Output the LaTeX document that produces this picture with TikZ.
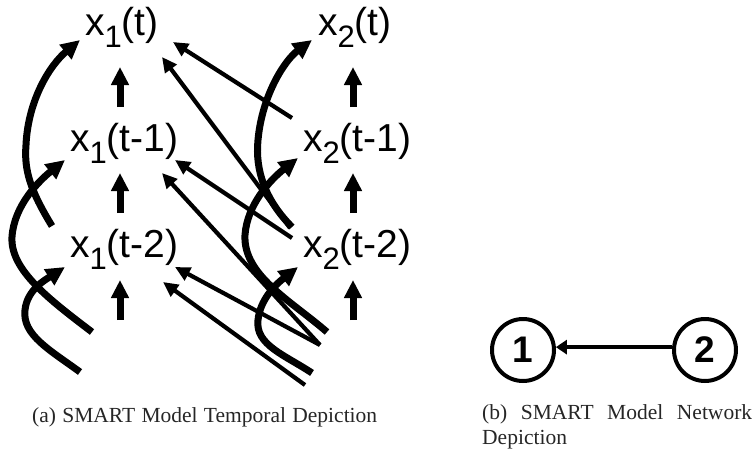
\documentclass[tikz,border=0pt]{standalone}
\usepackage{fontspec}
\setmainfont{Liberation Serif}
\newfontfamily\arialf{Liberation Sans}
\usetikzlibrary{arrows.meta}
\newcommand\subx[1]{\raisebox{-12pt}{\fontsize{31}{31}\selectfont #1}}
\begin{document}
\begin{tikzpicture}[x=1pt,y=-1pt,
  var/.style={anchor=base west, inner sep=0pt, font=\arialf\fontsize{39}{39}\selectfont},
  thinarrow/.style={line width=4.2pt, -{Triangle[length=15pt,width=14pt]}},
  thickarrow/.style={line width=7pt, -{Triangle[length=19pt,width=18pt]}},
  vertarrow/.style={line width=7pt, -{Triangle[length=18pt,width=17pt]}},
  circ/.style={circle, draw, line width=4pt, minimum size=62pt, inner sep=0pt, font=\arialf\bfseries\fontsize{37}{37}\selectfont},
  captext/.style={anchor=base west, inner sep=0pt, font=\fontsize{21.5}{25}\selectfont, text=black!85}]
\useasboundingbox (0,0) rectangle (753,451);

% variable nodes
\node[var] (a0) at (85,35) {x\subx{1}(t)};
\node[var] (a1) at (70,151) {x\subx{1}(t-1)};
\node[var] (a2) at (70,257) {x\subx{1}(t-2)};
\node[var] (b0) at (318,35) {x\subx{2}(t)};
\node[var] (b1) at (303,151) {x\subx{2}(t-1)};
\node[var] (b2) at (303,257) {x\subx{2}(t-2)};

% vertical arrows
\foreach \cx/\nm in {120/a, 353/b}{
  \coordinate (\nm v0s) at (\cx,107); \coordinate (\nm v0e) at (\cx,67);
  \coordinate (\nm v1s) at (\cx,213); \coordinate (\nm v1e) at (\cx,173);
  \coordinate (\nm v2s) at (\cx,320); \coordinate (\nm v2e) at (\cx,280);
  \draw[vertarrow] (\nm v0s) -- (\nm v0e);
  \draw[vertarrow] (\nm v1s) -- (\nm v1e);
  \draw[vertarrow] (\nm v2s) -- (\nm v2e);
}

% left curved arrows
\coordinate (cAs) at (92,332);  \coordinate (cAe) at (65,160);
\coordinate (cBs) at (52,226);  \coordinate (cBe) at (80,40);
\coordinate (cCs) at (80,372);  \coordinate (cCe) at (65,267);
\draw[thickarrow] (cAs) .. controls (50,300) and (10,270) .. (12,237)
  .. controls (14,205) and (40,180) .. (cAe);
\draw[thickarrow] (cBs) .. controls (30,190) and (24,170) .. (26,145)
  .. controls (28,100) and (50,65) .. (cBe);
\draw[thickarrow] (cCs) .. controls (50,350) and (22,335) .. (25,310)
  .. controls (27,290) and (45,280) .. (cCe);

% right curved arrows
\coordinate (cDs) at (312,373); \coordinate (cDe) at (298,267);
\coordinate (cEs) at (327,332); \coordinate (cEe) at (298,158);
\coordinate (cFs) at (292,227); \coordinate (cFe) at (312,40);
\draw[thickarrow] (cDs) .. controls (285,355) and (255,345) .. (258,320)
  .. controls (260,300) and (275,285) .. (cDe);
\draw[thickarrow] (cEs) .. controls (290,300) and (243,275) .. (245,235)
  .. controls (247,205) and (270,180) .. (cEe);
\draw[thickarrow] (cFs) .. controls (265,200) and (255,170) .. (258,140)
  .. controls (262,95) and (285,60) .. (cFe);

% thin straight arrows
\coordinate (l1s) at (292,118); \coordinate (l1e) at (173,42);
\coordinate (l2s) at (290,228); \coordinate (l2e) at (162,57);
\coordinate (l3s) at (292,238); \coordinate (l3e) at (175,160);
\coordinate (l4s) at (320,345); \coordinate (l4e) at (162,173);
\coordinate (l5s) at (320,345); \coordinate (l5e) at (175,267);
\coordinate (l6s) at (305,385); \coordinate (l6e) at (163,282);
\draw[thinarrow] (l1s) -- (l1e);
\draw[thinarrow] (l2s) -- (l2e);
\draw[thinarrow] (l3s) -- (l3e);
\draw[thinarrow] (l4s) -- (l4e);
\draw[thinarrow] (l5s) -- (l5e);
\draw[thinarrow] (l6s) -- (l6e);

% network depiction
\node[circ] (n1) at (523,350) {1};
\node[circ] (n2) at (705,350) {2};
\draw[line width=4pt, -{Triangle[length=11pt,width=14pt]}] (n2.175) -- (n1.5);

% captions
\node[captext] (capa) at (32,422) {\makebox[345pt][s]{(a) SMART Model Temporal Depiction}};
\node[captext] (capb1) at (482,419) {\makebox[270pt][s]{(b) SMART Model Network}};
\node[captext] (capb2) at (482,444) {Depiction};
\end{tikzpicture}
\end{document}
